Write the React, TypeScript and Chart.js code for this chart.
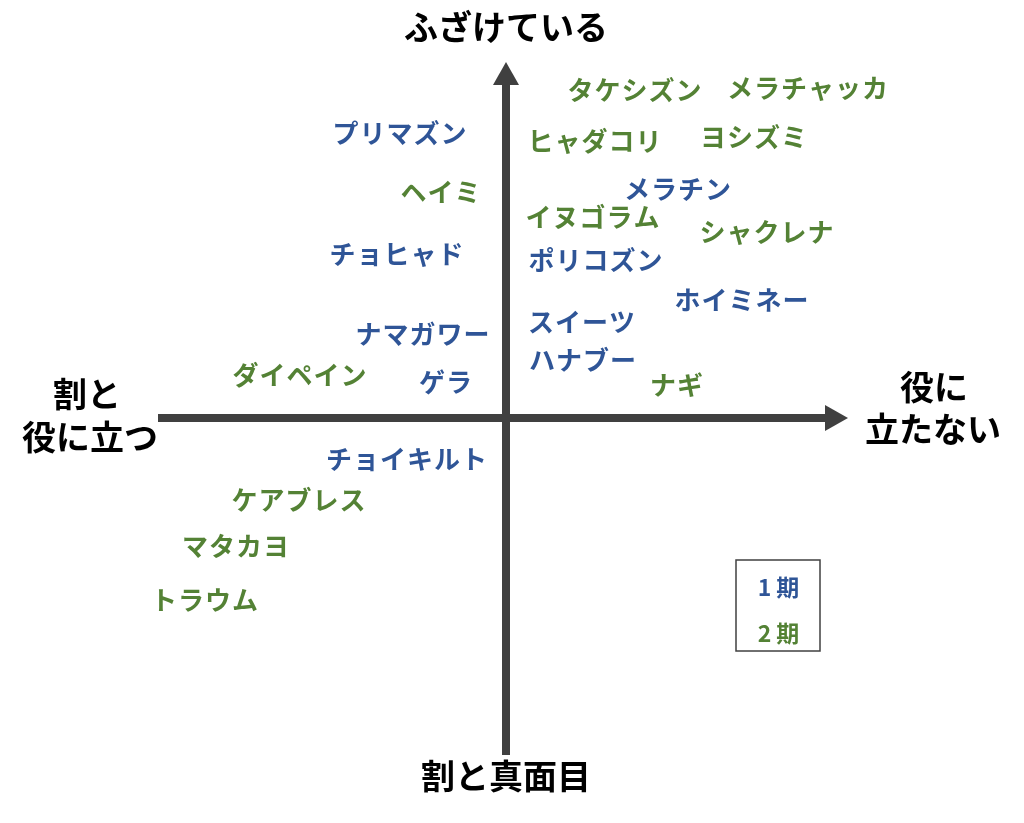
import React, { useEffect, useRef } from "react";
import { Chart, registerables } from "chart.js";

Chart.register(...registerables);

// Axis range (arbitrary units; 0 = centre of the quadrant)
const X_MIN = -348;
const X_MAX = 342;
const Y_MIN = -337;
const Y_MAX = 356;

// Series 1 (1期)
const names1 = ["プリマズン", "チョヒャド", "ナマガワー", "ゲラ", "メラチン", "ポリコズン", "ホイミネー", "スイーツ", "ハナブー", "チョイキルト"];
const x1 = [-106, -109, -83, -60, 172, 90, 236, 76, 77, -99];
const y1 = [285, 164, 84, 36, 229, 158, 118, 96, 58, -41];

// Series 2 (2期)
const names2 = ["タケシズン", "メラチャッカ", "ヒャダコリ", "ヨシズミ", "ヘイミ", "イヌゴラム", "シャクレナ", "ダイペイン", "ナギ", "ケアブレス", "マタカヨ", "トラウム"];
const x2 = [129, 302, 89, 248, -65, 87, 261, -206, 171, -207, -270, -301];
const y2 = [328, 330, 277, 281, 226, 201, 186, 43, 33, -82, -128, -182];

const seriesNames = ["1期", "2期"];
const seriesColors = ["#2F5597", "#548235"];

const axisTop = "ふざけている";
const axisBottom = "割と真面目";
const axisLeft = ["割と", "役に立つ"];
const axisRight = ["役に", "立たない"];

const FONT = "'Noto Sans CJK JP', 'Noto Sans', sans-serif";

export default function App() {
  const ref = useRef<HTMLCanvasElement | null>(null);

  useEffect(() => {
    if (!ref.current) return;
    const quadPlugin = {
      id: "quad",
      beforeDatasetsDraw(chart: any) {
        const { ctx, chartArea, scales } = chart;
        const cx = scales.x.getPixelForValue(0);
        const cy = scales.y.getPixelForValue(0);
        ctx.save();
        ctx.fillStyle = "#404040";
        ctx.strokeStyle = "#404040";
        ctx.lineWidth = 8;
        // horizontal axis
        ctx.beginPath();
        ctx.moveTo(chartArea.left, cy);
        ctx.lineTo(chartArea.right - 20, cy);
        ctx.stroke();
        ctx.beginPath();
        ctx.moveTo(chartArea.right, cy);
        ctx.lineTo(chartArea.right - 23, cy - 13);
        ctx.lineTo(chartArea.right - 23, cy + 13);
        ctx.closePath();
        ctx.fill();
        // vertical axis
        ctx.beginPath();
        ctx.moveTo(cx, chartArea.bottom);
        ctx.lineTo(cx, chartArea.top + 20);
        ctx.stroke();
        ctx.beginPath();
        ctx.moveTo(cx, chartArea.top);
        ctx.lineTo(cx - 13, chartArea.top + 23);
        ctx.lineTo(cx + 13, chartArea.top + 23);
        ctx.closePath();
        ctx.fill();

        // axis titles
        ctx.fillStyle = "#000000";
        ctx.font = `bold 34px ${FONT}`;
        ctx.textAlign = "center";
        ctx.textBaseline = "middle";
        ctx.fillText(axisTop, cx, 27);
        ctx.fillText(axisBottom, cx, 776);
        ctx.fillText(axisLeft[0], 87, 394);
        ctx.fillText(axisLeft[1], 90, 437);
        ctx.fillText(axisRight[0], 934, 387);
        ctx.fillText(axisRight[1], 933, 429);
        ctx.restore();
      },
      afterDatasetsDraw(chart: any) {
        const { ctx } = chart;
        ctx.save();
        ctx.font = `bold 26px ${FONT}`;
        ctx.letterSpacing = "1px";
        ctx.textAlign = "center";
        ctx.textBaseline = "middle";
        chart.data.datasets.forEach((ds: any, di: number) => {
          const meta = chart.getDatasetMeta(di);
          ctx.fillStyle = ds.borderColor;
          meta.data.forEach((pt: any, i: number) => {
            ctx.fillText(ds.names[i], pt.x, pt.y);
          });
        });
        // legend box
        ctx.letterSpacing = "5px";
        ctx.strokeStyle = "#404040";
        ctx.lineWidth = 1.5;
        ctx.strokeRect(736, 560, 84, 91);
        ctx.font = `bold 23px ${FONT}`;
        seriesNames.forEach((n, i) => {
          ctx.fillStyle = seriesColors[i];
          ctx.fillText(n, 781, 587 + i * 46);
        });
        ctx.restore();
      },
    };

    const chart = new Chart(ref.current, {
      type: "scatter",
      data: {
        datasets: [
          {
            label: seriesNames[0],
            data: x1.map((x, i) => ({ x, y: y1[i] })),
            borderColor: seriesColors[0],
            backgroundColor: seriesColors[0],
            pointRadius: 0,
            names: names1,
          } as any,
          {
            label: seriesNames[1],
            data: x2.map((x, i) => ({ x, y: y2[i] })),
            borderColor: seriesColors[1],
            backgroundColor: seriesColors[1],
            pointRadius: 0,
            names: names2,
          } as any,
        ],
      },
      options: {
        animation: false,
        responsive: false,
        maintainAspectRatio: false,
        events: [],
        layout: { padding: { left: 158, right: 176, top: 62, bottom: 68 } },
        plugins: { legend: { display: false }, tooltip: { enabled: false }, title: { display: false } },
        scales: {
          x: { type: "linear", display: false, min: X_MIN, max: X_MAX },
          y: { type: "linear", display: false, min: Y_MIN, max: Y_MAX },
        },
      },
      plugins: [quadPlugin],
    });
    return () => chart.destroy();
  }, []);

  return (
    <div style={{ position: "absolute", left: 0, top: 0, width: 1024, height: 823, background: "#ffffff" }}>
      <canvas ref={ref} width={1024} height={823} style={{ width: 1024, height: 823 }} />
    </div>
  );
}
